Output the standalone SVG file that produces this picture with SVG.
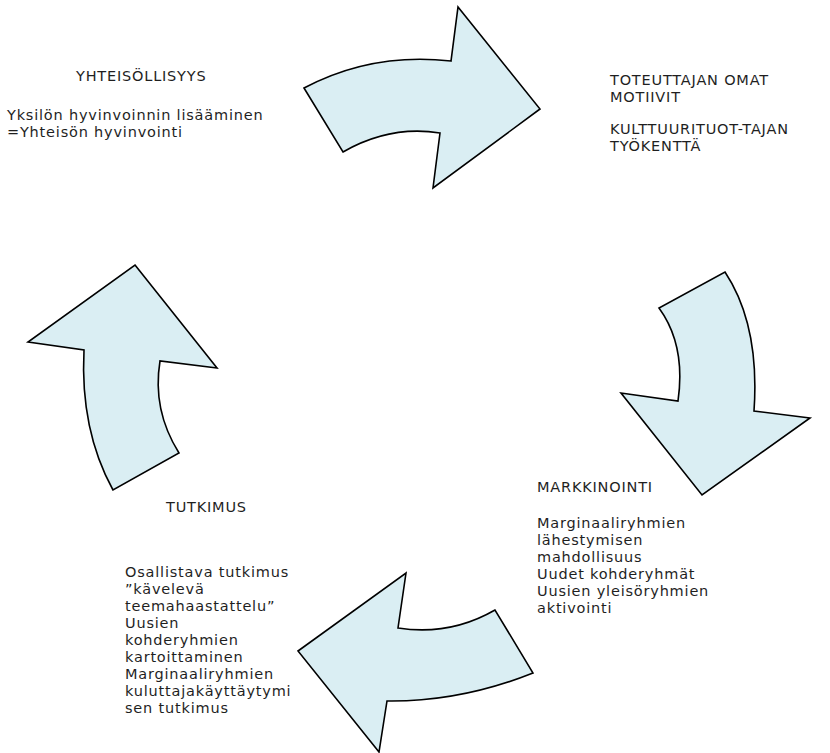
<svg xmlns="http://www.w3.org/2000/svg" width="830" height="753" viewBox="0 0 830 753">
<style>
.arrow{fill:#DAEEF3;stroke:#000;stroke-width:1.6;stroke-linejoin:miter}
text{font-family:"DejaVu Sans","Noto Sans",sans-serif;font-size:14.5px;fill:#1f1f1f;letter-spacing:0.8px}
</style>
<rect width="830" height="753" fill="#fff"/>
<g id="connectors">
<path id="arrow-top" class="arrow" d="M304,88 Q372,52 451,61 L458,7 L540,109 L433,188 L440,133 Q390,125 343,152 Z"/>
<path id="arrow-right" class="arrow" d="M725,272 Q760,325 754,411 L810,418 L702,495 L621,393 L678,401 Q686,345 659,308 Z"/>
<path id="arrow-bottom" class="arrow" d="M406,573 L398,628 Q450,636 495,610 L533,673 Q460,702 387,701 L379,752 L298,651 Z"/>
<path id="arrow-left" class="arrow" d="M135,265 L217,368 L160,361 Q152,410 179,453 L113,490 Q80,430 84,350 L28,342 Z"/>
</g>
<g id="node-yhteisollisyys">
<text x="76" y="81">YHTEISÖLLISYYS</text>
<text x="7" y="120">Yksilön hyvinvoinnin lisääminen</text>
<text x="7" y="137">=Yhteisön hyvinvointi</text>
</g>
<g id="node-toteuttaja">
<text x="610" y="85">TOTEUTTAJAN OMAT</text>
<text x="610" y="102">MOTIIVIT</text>
<text x="610" y="134">KULTTUURITUOT-TAJAN</text>
<text x="610" y="151">TYÖKENTTÄ</text>
</g>
<g id="node-markkinointi">
<text x="537" y="492">MARKKINOINTI</text>
<text x="537" y="528">Marginaaliryhmien</text>
<text x="537" y="545">lähestymisen</text>
<text x="537" y="562">mahdollisuus</text>
<text x="537" y="579">Uudet kohderyhmät</text>
<text x="537" y="596">Uusien yleisöryhmien</text>
<text x="537" y="613">aktivointi</text>
</g>
<g id="node-tutkimus">
<text x="166" y="512">TUTKIMUS</text>
<text x="125" y="577">Osallistava tutkimus</text>
<text x="125" y="594">”kävelevä</text>
<text x="125" y="611">teemahaastattelu”</text>
<text x="125" y="628">Uusien</text>
<text x="125" y="645">kohderyhmien</text>
<text x="125" y="662">kartoittaminen</text>
<text x="125" y="679">Marginaaliryhmien</text>
<text x="125" y="696">kuluttajakäyttäytymi</text>
<text x="125" y="713">sen tutkimus</text>
</g>
</svg>
